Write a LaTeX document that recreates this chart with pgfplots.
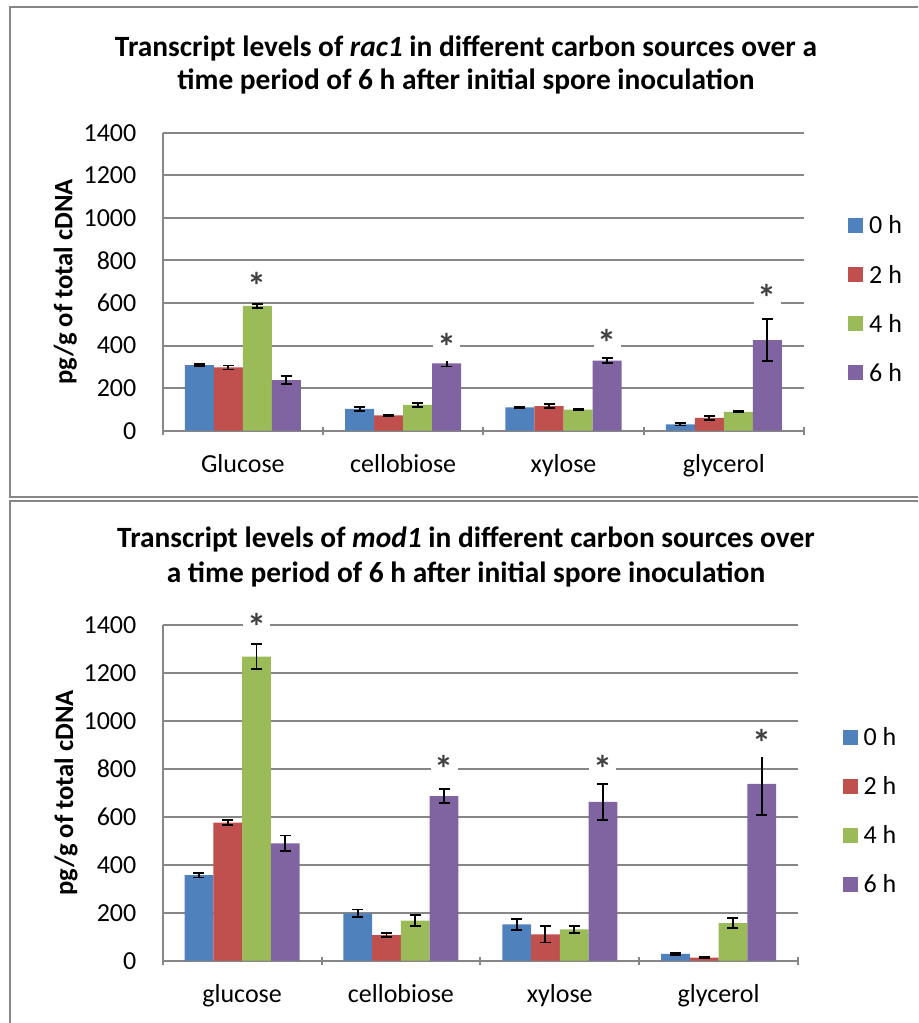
\documentclass[border=0pt]{standalone}
\usepackage{fontspec}
\setmainfont{Carlito}
\usepackage{pgfplots}
\pgfplotsset{compat=1.18}

\definecolor{c0}{RGB}{79,129,189}
\definecolor{c2}{RGB}{192,80,77}
\definecolor{c4}{RGB}{155,187,89}
\definecolor{c6}{RGB}{128,100,162}
\definecolor{gridgray}{RGB}{134,134,134}
\definecolor{stargray}{RGB}{64,64,64}

\newcommand\ticksize{\fontsize{13}{15.6}\selectfont}
\newcommand\titlesize{\fontsize{14.7}{17}\selectfont\bfseries}

\tikzset{
  starlbl/.style={fill=white, inner sep=0pt, minimum width=13.5pt, minimum height=15pt,
    text height=15pt, text depth=0pt,
    text=stargray, font=\fontsize{19}{22}\selectfont\bfseries},
}

\pgfplotsset{
  excelbar/.style={
    scale only axis, anchor=south west, clip=false,
    ybar, bar width=0.181,
    ymin=0, ymax=1400, ytick={0,200,...,1400},
    xmin=-0.5, xmax=3.5,
    xtick={0,1,2,3},
    minor xtick={-0.5,0.5,1.5,2.5,3.5},
    major tick length=0pt, minor tick length=4pt,
    tick align=inside,
    minor tick style={gridgray, line width=1pt},
    axis x line=bottom, axis y line=left,
    axis line style={draw=gridgray, line width=1pt, -},
    ymajorgrids, major grid style={draw=gridgray, line width=1pt},
    /pgf/number format/1000 sep={},
    /pgf/number format/assume math mode=true,
    yticklabel style={font=\ticksize, inner sep=0pt, anchor=east, xshift=-13pt},
    xticklabel style={font=\ticksize, inner sep=0pt, anchor=base, yshift=-21pt},
    ylabel={pg/g of total cDNA},
    every axis y label/.style={at={(axis description cs:-0.152,0.5)}, rotate=90,
      anchor=center, font=\fontsize{13.3}{16}\selectfont\bfseries},
    legend style={draw=none, fill=none, anchor=west, font=\ticksize,
      row sep=14pt, column sep=3pt, nodes={inner sep=0pt}},
    legend cell align=left,
    legend image code/.code={\fill[##1] (0pt,-3.2pt) rectangle (7.5pt,4.3pt);},
    error bars/y dir=both, error bars/y explicit,
    error bars/error bar style={black, line width=0.9pt},
    error bars/error mark options={black, rotate=90, mark size=2.75pt, line width=0.9pt},
  },
}

\begin{document}
\begin{tikzpicture}
\useasboundingbox (0,0) rectangle (459pt,-511.5pt);
\clip (0,0) rectangle (459pt,-511.5pt);

% frames
\draw[gridgray, line width=1pt] (470pt,-3.5pt) -- (5pt,-3.5pt) -- (5pt,-248.5pt) -- (470pt,-248.5pt);
\draw[gridgray, line width=1pt] (470pt,-250.5pt) -- (5pt,-250.5pt) -- (5pt,-530pt);

% titles
\node[anchor=base, font=\titlesize] at (233pt,-28pt)
  {Transcript levels of \textit{rac1} in different carbon sources over a};
\node[anchor=base, font=\titlesize] at (233pt,-44.7pt)
  {time period of 6 h after initial spore inoculation};
\node[anchor=base, font=\titlesize] at (233pt,-273.5pt)
  {Transcript levels of \textit{mod1} in different carbon sources over};
\node[anchor=base, font=\titlesize] at (233pt,-291pt)
  {a time period of 6 h after initial spore inoculation};

% rac1
\begin{axis}[excelbar,
  at={(81.35pt,-215.35pt)}, width=320.65pt, height=149pt,
  xticklabels={Glucose,cellobiose,xylose,glycerol},
  legend style={at={(1.059,0.4386)}}]
\addplot[fill=c0, draw=none, bar shift=-0.2715] coordinates
  {(0,308) +- (0,5) (1,102) +- (0,10) (2,110) +- (0,4) (3,30) +- (0,6)};
\addplot[fill=c2, draw=none, bar shift=-0.0905] coordinates
  {(0,297) +- (0,9) (1,72) +- (0,3) (2,116) +- (0,11) (3,60) +- (0,9)};
\addplot[fill=c4, draw=none, bar shift=0.0905] coordinates
  {(0,586) +- (0,9) (1,121) +- (0,8) (2,99) +- (0,4) (3,89) +- (0,3)};
\addplot[fill=c6, draw=none, bar shift=0.2715] coordinates
  {(0,238) +- (0,19) (1,316) +- (0,14) (2,329) +- (0,11) (3,426) +- (0,97)};
\legend{0 h,2 h,4 h,6 h}
\node[starlbl] at (axis cs:0.0905,688) {*};
\node[starlbl] at (axis cs:1.2715,400) {*};
\node[starlbl] at (axis cs:2.2715,421) {*};
\node[starlbl] at (axis cs:3.2715,630) {*};
\end{axis}

% mod1
\begin{axis}[excelbar,
  at={(81.35pt,-480.35pt)}, width=317.65pt, height=168pt,
  xticklabels={glucose,cellobiose,xylose,glycerol},
  legend style={at={(1.060,0.4435)}}]
\addplot[fill=c0, draw=none, bar shift=-0.2715] coordinates
  {(0,357) +- (0,10) (1,197) +- (0,16) (2,151) +- (0,24) (3,28) +- (0,3)};
\addplot[fill=c2, draw=none, bar shift=-0.0905] coordinates
  {(0,575) +- (0,11) (1,107) +- (0,8) (2,110) +- (0,34) (3,13) +- (0,3)};
\addplot[fill=c4, draw=none, bar shift=0.0905] coordinates
  {(0,1267) +- (0,53) (1,167) +- (0,23) (2,131) +- (0,15) (3,157) +- (0,21)};
\addplot[fill=c6, draw=none, bar shift=0.2715] coordinates
  {(0,489) +- (0,33) (1,686) +- (0,29) (2,662) +- (0,75) (3,737) +- (0,131)};
\legend{0 h,2 h,4 h,6 h}
\node[starlbl] at (axis cs:0.0905,1396) {*};
\node[starlbl] at (axis cs:1.2715,806) {*};
\node[starlbl] at (axis cs:2.2715,806) {*};
\node[starlbl] at (axis cs:3.2715,912) {*};
\end{axis}
\end{tikzpicture}
\end{document}
